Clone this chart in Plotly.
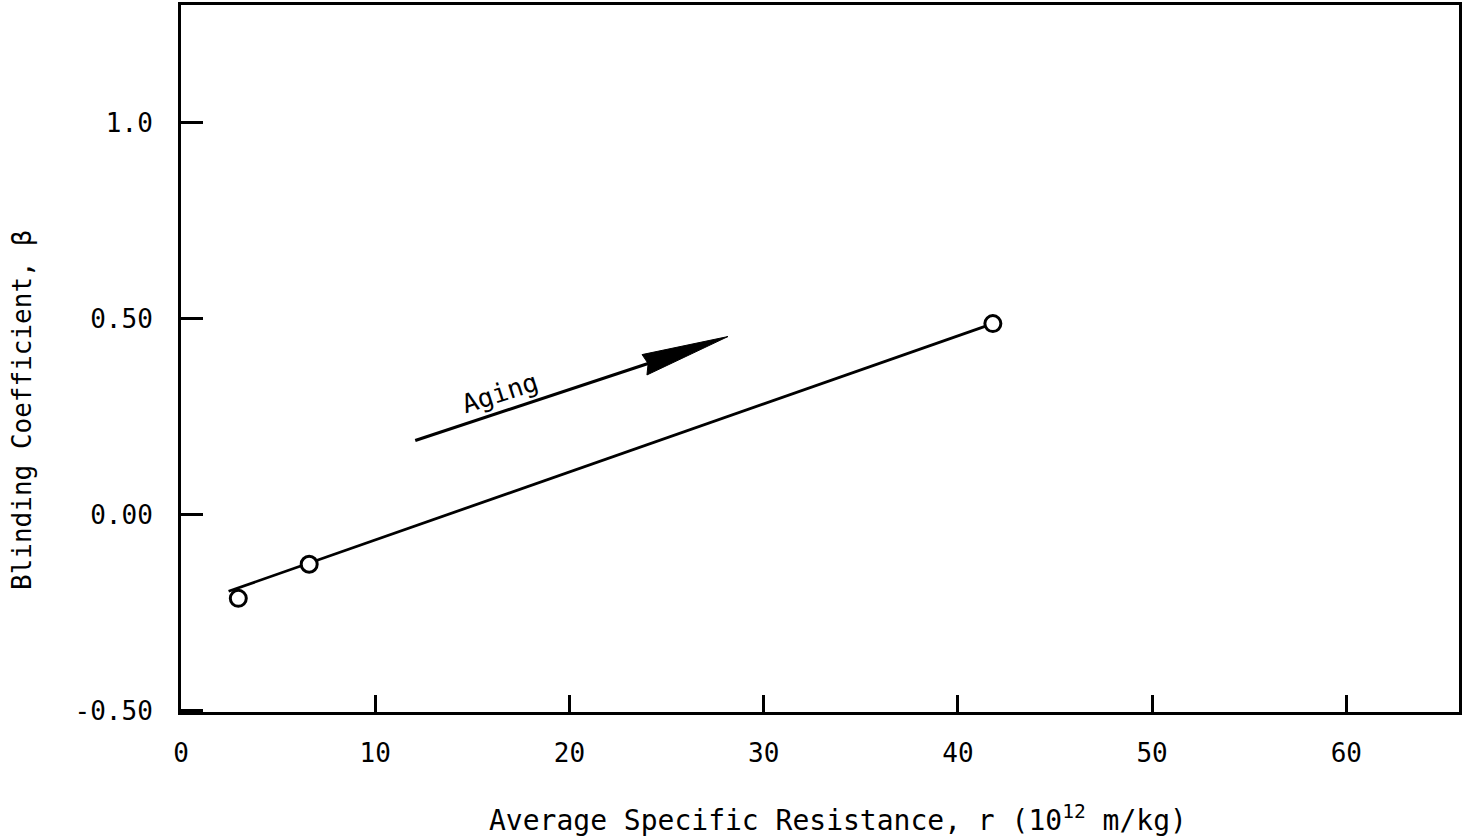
import plotly.graph_objects as go

# Data
resistance = [2.95, 6.6, 41.8]          # 10^12 m/kg
blinding = [-0.213, -0.126, 0.488]      # beta

fit_x = [2.45, 41.8]
fit_y = [-0.195, 0.488]

# "Aging" arrow (data coordinates)
arrow_tail = (12.06, 0.190)
arrow_notch = (24.05, 0.386)
arrow_head_x = [28.16, 23.74, 24.05, 23.99, 28.16]
arrow_head_y = [0.455, 0.409, 0.386, 0.357, 0.455]

x_ticks = [0, 10, 20, 30, 40, 50, 60]
y_ticks = [-0.5, 0.0, 0.5, 1.0]
y_ticktext = ["-0.50", "0.00", "0.50", "1.0"]

FONT = "DejaVu Sans Mono"

W, H = 1467, 839
ml, mr, mt, mb = 181, 8, 5, 127
pw, ph = W - ml - mr, H - mt - mb

fig = go.Figure()

fig.add_trace(go.Scatter(x=fit_x, y=fit_y, mode="lines",
                         line=dict(color="black", width=2.8),
                         showlegend=False, hoverinfo="skip"))
fig.add_trace(go.Scatter(x=resistance, y=blinding, mode="markers",
                         marker=dict(symbol="circle", size=16, color="white",
                                     line=dict(color="black", width=3)),
                         showlegend=False))
# arrow shaft
fig.add_trace(go.Scatter(x=[arrow_tail[0], arrow_notch[0]],
                         y=[arrow_tail[1], arrow_notch[1]], mode="lines",
                         line=dict(color="black", width=3.2),
                         showlegend=False, hoverinfo="skip"))
# arrow head
fig.add_trace(go.Scatter(x=arrow_head_x, y=arrow_head_y, mode="lines",
                         fill="toself", fillcolor="black",
                         line=dict(color="black", width=1),
                         showlegend=False, hoverinfo="skip"))

fig.add_annotation(x=16.4, y=0.31, text="Aging", showarrow=False,
                   textangle=-18, font=dict(family=FONT, size=26, color="black"))


def px_to_paper(px, py):
    return (px - ml) / pw, (H - mb - py) / ph


tx, ty = px_to_paper(838, 818)
fig.add_annotation(x=tx, y=ty, xref="paper", yref="paper",
                   xanchor="center", yanchor="middle",
                   text="Average Specific Resistance, r (10<sup>12</sup> m/kg)",
                   showarrow=False, font=dict(family=FONT, size=28, color="black"))
tx, ty = px_to_paper(22, 410)
fig.add_annotation(x=tx, y=ty, xref="paper", yref="paper",
                   xanchor="center", yanchor="middle",
                   text="Blinding Coefficient, β", textangle=-90,
                   showarrow=False, font=dict(family=FONT, size=26, color="black"))

fig.update_layout(
    width=W, height=H,
    margin=dict(l=ml, r=mr, t=mt, b=mb, autoexpand=False),
    plot_bgcolor="white", paper_bgcolor="white",
    font=dict(family=FONT, size=26, color="black"),
)

fig.update_xaxes(range=[0, 65.8], tickvals=x_ticks, ticks="inside",
                 ticklen=17, tickwidth=2.5, tickcolor="black",
                 showline=True, linecolor="black", linewidth=3, mirror=True,
                 showgrid=False, zeroline=False, ticklabelstandoff=16,
                 tickfont=dict(family=FONT, size=26))
fig.update_yaxes(range=[-0.503, 1.301], tickvals=y_ticks, ticktext=y_ticktext,
                 ticks="inside", ticklen=22, tickwidth=2.5, tickcolor="black",
                 showline=True, linecolor="black", linewidth=3, mirror=True,
                 showgrid=False, zeroline=False, ticklabelstandoff=20,
                 tickfont=dict(family=FONT, size=26))

fig.write_html("out.html", config={"displayModeBar": False},
               post_script="document.body.style.margin='0';document.body.style.overflow='hidden';")
